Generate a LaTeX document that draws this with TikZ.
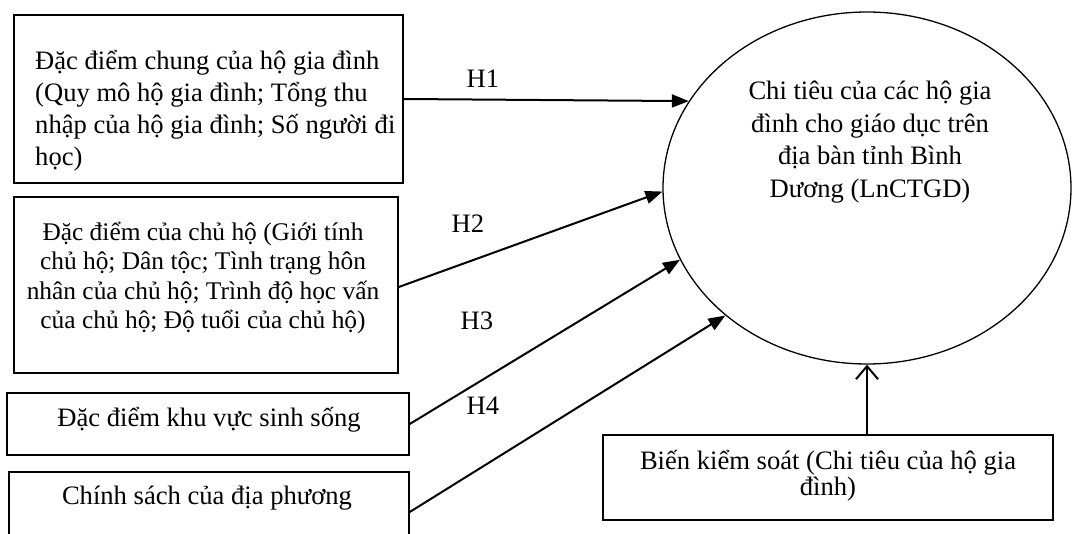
\documentclass[tikz,border=0pt]{standalone}
\usepackage{fontspec}
\setmainfont{Liberation Serif}
\usetikzlibrary{arrows.meta,shapes.geometric}
\begin{document}
\begin{tikzpicture}[x=1pt,y=-1pt,
  frame/.style={draw,line width=1.5pt,rectangle,inner sep=0pt},
  txt/.style={inner sep=0pt,font=\fontsize{26.6}{32}\selectfont},
  hyp/.style={draw,line width=2pt,-{Triangle[length=17pt,width=13pt]}},
  hlab/.style={inner sep=0pt,font=\fontsize{26.6}{32}\selectfont}]
\useasboundingbox (0,0) rectangle (1072,534);
\fill[white] (0,0) rectangle (1072,534);
% frames
\node[frame,minimum width=389pt,minimum height=168pt] (b1) at (208.5,99) {};
\node[frame,minimum width=384pt,minimum height=176pt] (b2) at (206,285) {};
\node[frame,minimum width=402pt,minimum height=62pt] (b3) at (208,424) {};
\node[frame,minimum width=400pt,minimum height=73pt] (b4) at (209,508.5) {};
\node[frame,minimum width=450pt,minimum height=85pt] (b5) at (828,477.5) {};
\node[draw,line width=1.3pt,ellipse,minimum width=408pt,minimum height=352pt,inner sep=0pt] (e) at (867,188) {};
% texts
\node[txt,anchor=west,align=left] (t1) at (35,111) {Đặc điểm chung của hộ gia đình\\(Quy mô hộ gia đình; Tổng thu\\nhập của hộ gia đình; Số người đi\\học)};
\node[txt,align=center,font=\fontsize{25.4}{29.3}\selectfont] (t2) at (203,278) {Đặc điểm của chủ hộ (Giới tính\\chủ hộ; Dân tộc; Tình trạng hôn\\nhân của chủ hộ; Trình độ học vấn\\của chủ hộ; Độ tuổi của chủ hộ)};
\node[txt] (t3) at (209,420) {Đặc điểm khu vực sinh sống};
\node[txt] (t4) at (207,498) {Chính sách của địa phương};
\node[txt,align=center,font=\fontsize{26.6}{32.6}\selectfont] (te) at (870,142) {Chi tiêu của các hộ gia\\đình cho giáo dục trên\\địa bàn tỉnh Bình\\Dương (LnCTGD)};
\node[txt,align=center,font=\fontsize{26.6}{26}\selectfont] (t5) at (828,476) {Biến kiểm soát (Chi tiêu của hộ gia\\đình)};
% labels
\node[hlab] (h1) at (483,79) {H1};
\node[hlab] (h2) at (468,224) {H2};
\node[hlab] (h3) at (477,321) {H3};
\node[hlab] (h4) at (483,406) {H4};
% connectors
\draw[hyp] (b1.east) -- (e.154.4);
\draw[hyp] ([yshift=-2pt]b2.east) -- (e.181.4);
\draw[hyp] (b3.east) -- (e.201.8);
\draw[hyp] ([yshift=-3.5pt]b4.east) -- (e.222.8);
\draw[line width=2pt,-{Straight Barb[length=13pt,width=22pt]}] (e.south |- b5.north) -- (e.south);
\end{tikzpicture}
\end{document}
